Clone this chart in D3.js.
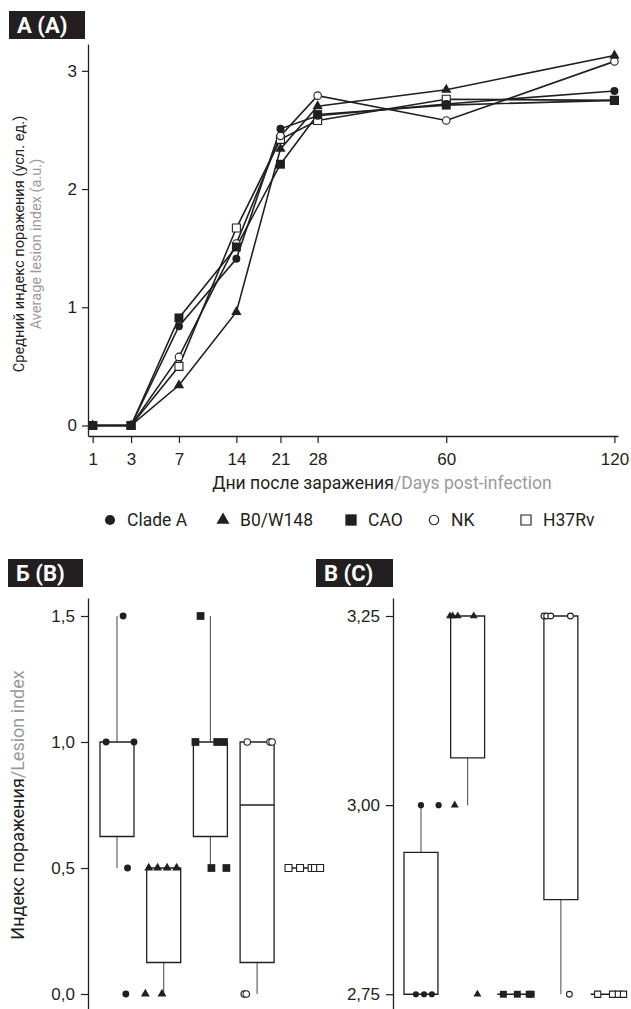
<!DOCTYPE html>
<html><head><meta charset="utf-8">
<script src="https://cdn.jsdelivr.net/npm/d3@7"></script>
<style>
body{margin:0;background:#fff}
svg{display:block;font-family:Roboto,"Liberation Sans",sans-serif}
</style></head><body>
<svg id="chart" width="631" height="1009"></svg>
<script>
// ---------- DATA ----------
const days = [1, 3, 7, 14, 21, 28, 60, 120];
const strains = ["Clade A", "B0/W148", "CAO", "NK", "H37Rv"];
// Panel A: mean lesion index per day
const cladeA = [0, 0, 0.84, 1.41, 2.51, 2.62, 2.72, 2.83];
const b0w148 = [0, 0, 0.34, 0.96, 2.34, 2.70, 2.84, 3.13];
const cao    = [0, 0, 0.91, 1.51, 2.21, 2.63, 2.71, 2.75];
const nk     = [0, 0, 0.58, 1.54, 2.45, 2.79, 2.58, 3.08];
const h37rv  = [0, 0, 0.50, 1.67, 2.42, 2.58, 2.76, 2.75];
const yTicksA = [0, 1, 2, 3];

// Panel B: box statistics per strain
const bLo  = [0.5, 0, 0.5, 0, 0.5];
const bQ1  = [0.625, 0.125, 0.625, 0.125, 0.5];
const bMed = [1, 0.5, 1, 0.75, 0.5];
const bQ3  = [1, 0.5, 1, 1, 0.5];
const bHi  = [1.5, 0.5, 1.5, 1, 0.5];
const bPoints = [
  [1, 1, 1.5, 0.5, 0],
  [0.5, 0.5, 0.5, 0.5, 0, 0],
  [1.5, 1, 1, 1, 0.5, 0.5],
  [1, 1, 1, 0, 0],
  [0.5, 0.5, 0.5, 0.5, 0.5]
];
const yTicksB = [0, 0.5, 1, 1.5];

// Panel C: box statistics per strain
const cLo  = [2.75, 3.0, 2.75, 2.75, 2.75];
const cQ1  = [2.75, 3.0625, 2.75, 2.875, 2.75];
const cMed = [2.75, 3.25, 2.75, 3.25, 2.75];
const cQ3  = [2.9375, 3.25, 2.75, 3.25, 2.75];
const cHi  = [3.0, 3.25, 2.75, 3.25, 2.75];
const cPoints = [
  [3, 3, 2.75, 2.75, 2.75],
  [3.25, 3.25, 3.25, 3.25, 3.0, 2.75],
  [2.75, 2.75, 2.75, 2.75],
  [3.25, 3.25, 3.25, 3.25, 2.75],
  [2.75, 2.75, 2.75, 2.75]
];
const yTicksC = [2.75, 3.0, 3.25];

// ---------- LAYOUT (dodge offsets in box-width units) ----------
const bJitter = [
  [-0.32, 0.5, 0.18, 0.31, 0.26],
  [-0.44, -0.18, 0.1, 0.38, -0.54, -0.05],
  [-0.29, -0.44, 0.2, 0.4, 0.03, 0.47],
  [-0.29, 0.38, 0.44, -0.38, -0.32],
  [-0.45, -0.11, 0.23, 0.33, 0.48]
];
const cJitter = [
  [0, 0.52, -0.15, 0.09, 0.32],
  [-0.52, -0.44, -0.29, 0.18, -0.38, 0.29],
  [-0.32, 0.09, 0.44, 0.5],
  [-0.5, -0.42, -0.3, 0.28, 0.25],
  [-0.29, 0.15, 0.32, 0.47]
];

const seriesA = [h37rv, nk, b0w148, cladeA, cao];
const seriesIdx = [4, 3, 1, 0, 2];
const INK = "#231f20", GREY = "#9a9a9a";
const FONT = 17;

const svg = d3.select("#chart");

function drawMarker(g, kind, x, y, scale) {
  const s = scale || 1;
  let type, size, fill, stroke = INK, sw = 1.1;
  if (kind === 0) { type = d3.symbolCircle; size = 50 * s; fill = INK; sw = 0; }
  if (kind === 1) { type = d3.symbolTriangle; size = 46 * s; fill = INK; sw = 0; }
  if (kind === 2) { type = d3.symbolSquare; size = 80 * s; fill = INK; sw = 0; }
  if (kind === 3) { type = d3.symbolCircle; size = 44 * s; fill = "#fff"; }
  if (kind === 4) { type = d3.symbolSquare; size = 64 * s; fill = "#fff"; }
  g.append("path")
    .attr("d", d3.symbol().type(type).size(size)())
    .attr("transform", `translate(${x},${y})`)
    .attr("fill", fill).attr("stroke", sw ? stroke : "none").attr("stroke-width", sw);
}

function panelLabel(x, y, w, h, text) {
  svg.append("rect").attr("x", x).attr("y", y).attr("width", w).attr("height", h).attr("fill", INK);
  svg.append("text").attr("x", x + 8).attr("y", y + h / 2 + 8)
    .attr("fill", "#fff").attr("font-weight", "bold").attr("font-size", 22).text(text);
}

function styleAxis(g) {
  g.selectAll(".domain").attr("stroke", INK).attr("stroke-width", 1.3);
  g.selectAll(".tick line").attr("stroke", INK).attr("stroke-width", 1.2);
  g.selectAll(".tick text").attr("fill", INK).attr("font-size", FONT).attr("font-family", null);
}

// ---------- PANEL A ----------
panelLabel(9, 11, 76, 28, "А (A)");
const xA = d3.scalePow().exponent(0.5).domain([0.829, 121.5]).range([88, 618]);
const yA = d3.scaleLinear().domain([-0.089, 3.227]).range([436, 44]);

const gxA = svg.append("g").attr("transform", "translate(0,436)")
  .call(d3.axisBottom(xA).tickValues(days).tickSize(7).tickSizeOuter(0).tickPadding(10).tickFormat(d3.format("d")));
styleAxis(gxA);
const gyA = svg.append("g").attr("transform", "translate(88,0)")
  .call(d3.axisLeft(yA).tickValues(yTicksA).tickSize(6).tickSizeOuter(0).tickPadding(5).tickFormat(d3.format("d")));
styleAxis(gyA);

const line = d3.line().x((d, i) => xA(days[i])).y(d => yA(d));
seriesA.forEach((s, k) => {
  svg.append("path").datum(s).attr("d", line).attr("fill", "none")
    .attr("stroke", INK).attr("stroke-width", 1.6);
});
seriesA.forEach((s, k) => {
  const g = svg.append("g");
  s.forEach((v, i) => drawMarker(g, seriesIdx[k], xA(days[i]), yA(v)));
});

// axis titles A
svg.append("text").attr("transform", "translate(24,244) rotate(-90)").attr("text-anchor", "middle")
  .attr("font-size", 14.6).attr("fill", INK).text("Средний индекс поражения (усл. ед.)");
svg.append("text").attr("transform", "translate(41,244) rotate(-90)").attr("text-anchor", "middle")
  .attr("font-size", 14.6).attr("fill", GREY).text("Average lesion index (a.u.)");
const xt = svg.append("text").attr("x", 382).attr("y", 489).attr("text-anchor", "middle").attr("font-size", 17.6);
xt.append("tspan").attr("fill", INK).text("Дни после заражения");
xt.append("tspan").attr("fill", GREY).text("/Days post-infection");

// legend
const legendX = [110, 223, 351, 434, 526];
strains.forEach((name, i) => {
  const g = svg.append("g");
  drawMarker(g, i, legendX[i], 520, 1.6);
  g.append("text").attr("x", legendX[i] + 17).attr("y", 526).attr("font-size", 17.5).attr("fill", INK).text(name);
});

// ---------- BOX PANELS ----------
function boxPanel(opts) {
  const { x0, x1, axisX, y, ticks, fmt, lo, q1, med, q3, hi, pts, jit, msScale } = opts;
  const xb = d3.scaleBand().domain(strains).range([x0, x1]).paddingInner(0.272).paddingOuter(0);
  const bw = xb.bandwidth();
  const gy = svg.append("g").attr("transform", `translate(${axisX},0)`)
    .call(d3.axisLeft(y).tickValues(ticks).tickSize(7).tickSizeOuter(0).tickPadding(6).tickFormat(fmt));
  styleAxis(gy);
  strains.forEach((s, i) => {
    const bx = xb(s), cx = bx + bw / 2;
    const g = svg.append("g");
    if (hi[i] > q3[i]) g.append("line").attr("x1", cx).attr("x2", cx).attr("y1", y(q3[i])).attr("y2", y(hi[i]))
      .attr("stroke", "#555").attr("stroke-width", 1.1);
    if (lo[i] < q1[i]) g.append("line").attr("x1", cx).attr("x2", cx).attr("y1", y(q1[i])).attr("y2", y(lo[i]))
      .attr("stroke", "#555").attr("stroke-width", 1.1);
    g.append("path").attr("d", `M${bx},${y(q3[i])}H${bx + bw}V${y(q1[i])}H${bx}Z`)
      .attr("fill", "#fff").attr("stroke", INK).attr("stroke-width", 1.3);
    if (med[i] !== q1[i] && med[i] !== q3[i])
      g.append("line").attr("x1", bx).attr("x2", bx + bw).attr("y1", y(med[i])).attr("y2", y(med[i]))
        .attr("stroke", INK).attr("stroke-width", 1.3);
    pts[i].forEach((v, j) => drawMarker(g, i, cx + jit[i][j] * bw, y(v), msScale));
  });
}

panelLabel(8, 559, 75, 28, "Б (B)");
const yB = d3.scaleLinear().domain([-0.0595, 1.5714]).range([1009, 598]);
boxPanel({ x0: 100, x1: 320.8, axisX: 88, y: yB, ticks: yTicksB, fmt: d3.format(".1f"),
  lo: bLo, q1: bQ1, med: bMed, q3: bQ3, hi: bHi, pts: bPoints, jit: bJitter, msScale: 0.75 });
const ytB = svg.append("text").attr("transform", "translate(24,805) rotate(-90)").attr("text-anchor", "middle").attr("font-size", 18);
ytB.append("tspan").attr("fill", INK).text("Индекс поражения");
ytB.append("tspan").attr("fill", GREY).text("/Lesion index");

panelLabel(316, 559, 77, 28, "В (C)");
const yC = d3.scaleLinear().domain([2.7305, 3.2738]).range([1009, 598]);
boxPanel({ x0: 404, x1: 624.5, axisX: 393, y: yC, ticks: yTicksC, fmt: d3.format(".2f"),
  lo: cLo, q1: cQ1, med: cMed, q3: cQ3, hi: cHi, pts: cPoints, jit: cJitter, msScale: 0.6 });

// decimal commas
svg.selectAll(".tick text").each(function () {
  const t = d3.select(this); t.text(t.text().replace(".", ","));
});
</script></body></html>
